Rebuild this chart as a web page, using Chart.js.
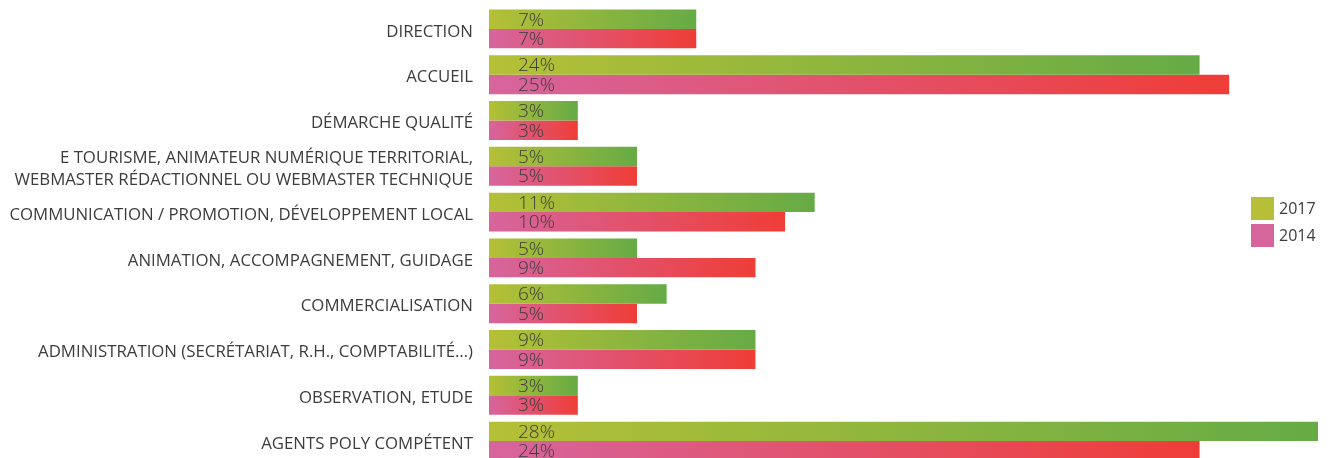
<!DOCTYPE html>
<html lang="fr">
<head>
<meta charset="UTF-8">
<title>Métiers 2017 / 2014</title>
<style>
    html, body { margin: 0; padding: 0; background: #fff; overflow: hidden; }
    #wrap { position: relative; width: 1332px; height: 470px; }
</style>
<script src="https://cdn.jsdelivr.net/npm/chart.js"></script>
</head>
<body>
<div id="wrap"><canvas id="chart"></canvas></div>
<script>
const categories = [
    'DIRECTION',
    'ACCUEIL',
    'DÉMARCHE QUALITÉ',
    ['E TOURISME, ANIMATEUR NUMÉRIQUE TERRITORIAL,', 'WEBMASTER RÉDACTIONNEL OU WEBMASTER TECHNIQUE'],
    'COMMUNICATION / PROMOTION, DÉVELOPPEMENT LOCAL',
    'ANIMATION, ACCOMPAGNEMENT, GUIDAGE',
    'COMMERCIALISATION',
    'ADMINISTRATION (SECRÉTARIAT, R.H., COMPTABILITÉ…)',
    'OBSERVATION, ETUDE',
    'AGENTS POLY COMPÉTENT'
];
const values2017 = [7, 24, 3, 5, 11, 5, 6, 9, 3, 28];
const values2014 = [7, 25, 3, 5, 10, 9, 5, 9, 3, 24];

const colors2017 = ['#b5c036', '#66ab46'];
const colors2014 = ['#d6659d', '#ef3d37'];

function barGradient(stops) {
    return function(ctx) {
        const chart = ctx.chart;
        if (ctx.type !== 'data' || !chart.chartArea) return stops[0];
        const x = chart.scales.x;
        const x0 = x.getPixelForValue(0);
        const x1 = x.getPixelForValue(ctx.raw);
        if (x1 - x0 < 1) return stops[0];
        const g = chart.ctx.createLinearGradient(x0, 0, x1, 0);
        g.addColorStop(0, stops[0]);
        g.addColorStop(1, stops[1]);
        return g;
    };
}

// percent labels inside bars + legend drawn over the plot
const overlay = {
    id: 'overlay',
    afterDatasetsDraw(chart) {
        const c = chart.ctx;
        c.save();
        c.fillStyle = '#3c3c3c';
        c.font = '300 19px "Open Sans", sans-serif';
        c.textAlign = 'left';
        c.textBaseline = 'middle';
        chart.data.datasets.forEach((ds, i) => {
            chart.getDatasetMeta(i).data.forEach((bar, j) => {
                c.fillText(ds.data[j] + '%', bar.base + 29, bar.y + 1);
            });
        });
        // legend
        const lx = 1251, ly = 197;
        chart.data.datasets.forEach((ds, i) => {
            const y = ly + i * 27;
            c.fillStyle = ds.legendColor;
            c.fillRect(lx, y, 23, 23);
            c.fillStyle = '#3c3c3c';
            c.font = '16px "Open Sans", sans-serif';
            c.fillText(ds.label, lx + 28, y + 12);
        });
        c.restore();
    }
};

new Chart(document.getElementById('chart'), {
    type: 'bar',
    data: {
        labels: categories,
        datasets: [
            { label: '2017', data: values2017, backgroundColor: barGradient(colors2017), legendColor: '#b5bf38' },
            { label: '2014', data: values2014, backgroundColor: barGradient(colors2014), legendColor: '#d6659c' }
        ]
    },
    options: {
        indexAxis: 'y',
        responsive: true,
        maintainAspectRatio: false,
        animation: false,
        barPercentage: 1,
        categoryPercentage: 0.85,
        layout: { padding: { top: 6, bottom: 6, right: 14, left: 0 } },
        plugins: { legend: { display: false }, tooltip: { enabled: false } },
        scales: {
            x: { display: false, min: 0, max: 28 },
            y: {
                grid: { display: false, drawTicks: false },
                border: { display: false },
                afterFit(scale) {
                    scale.width = 489;
                    scale.paddingTop = 0;
                    scale.paddingBottom = 0;
                },
                ticks: {
                    autoSkip: false,
                    padding: 16,
                    labelOffset: 3,
                    color: '#3c3c3c',
                    font: { family: '"Open Sans", sans-serif', size: 16.8, lineHeight: 1.35 }
                }
            }
        }
    },
    plugins: [overlay]
});
</script>
</body>
</html>
